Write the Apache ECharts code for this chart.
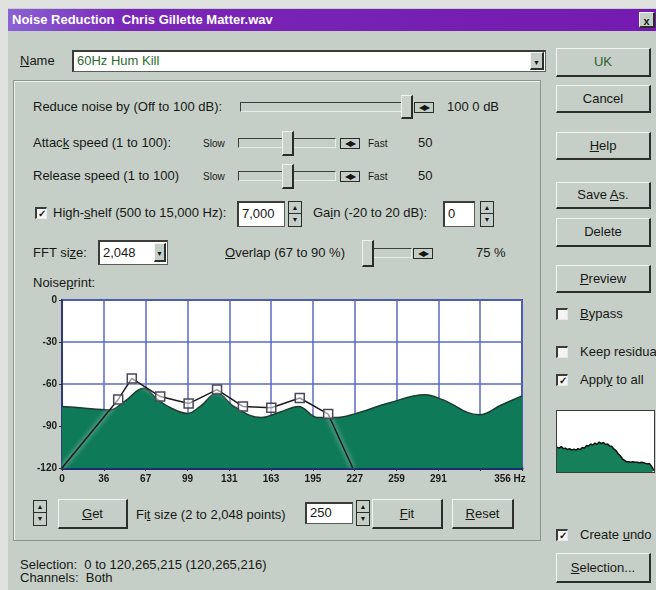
<!DOCTYPE html>
<html>
<head>
<meta charset="utf-8">
<script src="https://cdn.jsdelivr.net/npm/echarts@6/dist/echarts.min.js"></script>
<style>
html,body{margin:0;padding:0;width:656px;height:590px;overflow:hidden;background:#dfe2df;}
#ui{position:absolute;left:0;top:0;width:656px;height:590px;font-family:"Liberation Sans",Arial,sans-serif;font-size:13px;color:#161816;}
#ui div{position:absolute;box-sizing:border-box;}
.dlg{background:#c6cfc7;}
.title{background:linear-gradient(to right,#8a63d4 0%,#7a26b8 18%,#741ab0 100%);color:#fff;font-weight:bold;font-size:13px;line-height:22px;padding-left:4px;white-space:nowrap;}
.lbl{white-space:nowrap;line-height:16px;}
.btn{border:1px solid #f2f5f2;border-right:2px solid #2c2e2c;border-bottom:2px solid #2c2e2c;text-align:center;background:#c6cfc7;}
.sunk{background:#fff;border:1px solid #5a5e5a;border-top:2px solid #3a3c3a;border-left:2px solid #3a3c3a;padding-left:3px;white-space:nowrap;}
.track{border:1px solid #3c3e3c;border-bottom-color:#e8ece8;border-right-color:#e8ece8;background:#c6cfc7;}
.thumb{border:1px solid #f0f2f0;border-right:2px solid #2a2c2a;border-bottom:2px solid #2a2c2a;background:#c9d1c9;}
.arr{border:1px solid #2a2c2a;background:#c6cfc7;font-size:8px;line-height:9px;text-align:center;letter-spacing:-1px;}
.spin{border:1px solid #2a2c2a;background:#c6cfc7;font-size:7px;text-align:center;}
.chk{background:#f4f4f4;border:1px solid #e8e8e8;border-top:2px solid #3a3c3a;border-left:2px solid #3a3c3a;font-size:10px;line-height:10px;text-align:center;font-weight:bold;}
.groove{border:1px solid #8c948c;box-shadow:1px 1px 0 #eef2ee inset;}
</style>
</head>
<body>
<div id="ui"></div>
<script>
// ---- noiseprint data (Hz, dB) ----
const hzMax = 356;
const xTickLabels = ['0','36','67','99','131','163','195','227','259','291','','356 Hz'];
const printHz = [0, 14, 37, 49, 63, 74, 84, 97, 107, 120, 133, 154, 169, 183, 198, 211, 226, 253, 281, 294, 323, 340, 356];
const printDb = [-76, -77, -78.5, -72, -63, -71, -77, -81, -76, -66.5, -76, -84, -80, -76, -84, -84, -81.5, -73.6, -67.7, -71, -82, -75, -68.5];
// reduction curve control points
const curveHz = [0, 43.5, 54, 76, 98, 120, 140, 162, 184, 206, 225];
const curveDb = [-120, -71, -56, -69, -74, -64, -76, -77, -70, -81.5, -120];
// small preview profile on the right
const miniDb = [-71,-73,-70,-74,-73,-76,-74,-77,-75,-77,-74,-76,-72,-73,-68,-69,-65,-67,-63,-66,-61,-64,-62,-66,-65,-69,-70,-75,-78,-84,-88,-94,-97,-100,-100,-101,-100,-101,-101,-102,-101,-102,-103,-104,-104,-110,-117];

const ui = document.getElementById('ui');
function box(x, y, w, h, cls, txt) {
  const d = document.createElement('div');
  d.className = cls;
  d.style.left = x + 'px'; d.style.top = y + 'px';
  if (w != null) d.style.width = w + 'px';
  if (h != null) d.style.height = h + 'px';
  if (txt != null) d.innerHTML = txt;
  ui.appendChild(d);
  return d;
}
function lbl(x, yc, txt) { return box(x, yc - 8, null, 16, 'lbl', txt); }
function btn(x, y, w, h, txt) {
  const b = box(x, y, w, h, 'btn', txt);
  b.style.lineHeight = (h - 3) + 'px';
  return b;
}
function slider(x0, x1, yc, tx, th, ax) {
  box(x0, yc - 5, x1 - x0, 10, 'track');
  box(tx, yc - th / 2, 12, th, 'thumb');
  box(ax, yc - 5, 20, 11, 'arr', '&#9664;&#9654;');
}
function spinner(x, y, h) {
  const s = box(x, y, 14, h, 'spin');
  s.innerHTML = '<div style="left:0;top:0;width:12px;height:' + (h / 2 - 1) + 'px;border-bottom:1px solid #2a2c2a;line-height:' + (h / 2 - 1) + 'px">&#9650;</div>' +
    '<div style="left:0;bottom:0;width:12px;height:' + (h / 2 - 1) + 'px;line-height:' + (h / 2 - 1) + 'px">&#9660;</div>';
}
function check(x, yc, on) { box(x, yc - 6, 12, 12, 'chk', on ? '&#10003;' : ''); }

// window frame
box(8, 8, 648, 582, 'dlg');
box(8, 9, 648, 22, 'title', 'Noise Reduction &nbsp;Chris Gillette Matter.wav');
box(639, 12, 16, 16, 'btn', '<b style="font-size:11px;line-height:12px">x</b>');
box(13, 80, 528, 461, 'groove');

// name row
lbl(20, 61, '<u>N</u>ame');
const nm = box(72, 50, 474, 22, 'sunk', '<span style="color:#2f6a2f">60Hz Hum Kill</span>');
nm.style.lineHeight = '18px';
box(530, 52, 14, 18, 'btn', '<span style="font-size:7px;line-height:14px">&#9660;</span>');

// right buttons
btn(556, 48, 95, 29, '<span style="color:#2f5f2f">UK</span>');
btn(556, 85, 95, 28, 'Cancel');
btn(556, 132, 95, 28, '<u>H</u>elp');
btn(556, 182, 95, 27, 'Save <u>A</u>s.');
btn(556, 218, 95, 29, 'Delete');
btn(556, 265, 95, 28, '<u>P</u>review');
check(556, 314, false); lbl(580, 314, '<u>B</u>ypass');
check(556, 352, false); lbl(580, 352, 'Keep residual');
check(556, 380, true);  lbl(580, 380, 'Appl<u>y</u> to all');
check(556, 535, true);  lbl(580, 535, 'Create <u>u</u>ndo');
btn(556, 553, 95, 30, '<u>S</u>election...');

// parameter rows
lbl(33, 107, 'Reduce noise by (Off to 100 dB):');
slider(240, 405, 107, 401, 24, 414);
lbl(447, 107, '100 0 dB');

lbl(33, 143, 'Attac<u>k</u> speed (1 to 100):');
lbl(203, 143, '<span style="font-size:10px">Slow</span>');
slider(238, 336, 143, 282, 25, 340);
lbl(368, 143, '<span style="font-size:10px">Fast</span>');
lbl(418, 143, '50');

lbl(33, 176, 'Release speed (1 to 100)');
lbl(203, 176, '<span style="font-size:10px">Slow</span>');
slider(238, 336, 176, 282, 25, 340);
lbl(368, 176, '<span style="font-size:10px">Fast</span>');
lbl(418, 176, '50');

check(35, 213, true);
lbl(53, 213, 'High-<u>s</u>helf (500 to 15,000 Hz):');
const hs = box(237, 201, 48, 26, 'sunk', '7,000'); hs.style.lineHeight = '22px';
spinner(288, 201, 26);
lbl(313, 213, 'Ga<u>i</u>n (-20 to 20 dB):');
const gn = box(443, 201, 32, 26, 'sunk', '0'); gn.style.lineHeight = '22px';
spinner(480, 201, 26);

lbl(33, 253, 'FFT si<u>z</u>e:');
const ff = box(98, 240, 70, 25, 'sunk', '2,048'); ff.style.lineHeight = '21px';
box(154, 243, 12, 19, 'btn', '<span style="font-size:7px;line-height:15px">&#9660;</span>');
lbl(225, 253, '<u>O</u>verlap (67 to 90 %)');
slider(362, 412, 253, 362, 27, 413);
lbl(476, 253, '75 %');

lbl(33, 283, 'Noise<u>p</u>rint:');

// bottom controls
spinner(33, 500, 26);
btn(58, 499, 70, 30, '<u>G</u>et');
lbl(136, 515, 'Fi<u>t</u> size (2 to 2,048 points)');
const fz = box(305, 502, 48, 22, 'sunk', '250'); fz.style.lineHeight = '18px';
spinner(356, 500, 26);
btn(372, 499, 71, 30, '<u>F</u>it');
btn(452, 499, 62, 30, '<u>R</u>eset');

lbl(20, 565, 'Selection: &nbsp;0 to 120,265,215 (120,265,216)');
lbl(20, 578, 'Channels: &nbsp;Both');

// ---- main noiseprint chart ----
const chartDiv = box(20, 290, 530, 205, '');
const chart = echarts.init(chartDiv);
const step = hzMax / 11;
chart.setOption({
  animation: false,
  grid: {
    left: 42, top: 10, right: 28, bottom: 27,
    show: true, backgroundColor: '#ffffff', borderColor: '#2f3a7a', borderWidth: 2
  },
  xAxis: {
    type: 'value', min: 0, max: hzMax, interval: step,
    axisLine: { show: true, onZero: false, lineStyle: { color: '#183070', width: 3 } },
    axisTick: { show: true, length: 3, lineStyle: { color: '#333' } },
    splitLine: { show: true, lineStyle: { color: '#5a68c4', width: 1.5 } },
    axisLabel: {
      color: '#1a1a1a', fontSize: 10, fontWeight: 'bold', margin: 6,
      showMaxLabel: true,
      formatter: function (v) {
        const t = xTickLabels[Math.round(v / step)];
        return t === '356 Hz' ? '{r|' + t + '}' : t;
      },
      rich: { r: { fontSize: 10, fontWeight: 'bold', color: '#1a1a1a', padding: [0, 24, 0, 0] } }
    }
  },
  yAxis: {
    type: 'value', min: -120, max: 0, interval: 30,
    axisLine: { show: true, lineStyle: { color: '#2f3a7a', width: 2 } },
    axisTick: { show: true, length: 3, lineStyle: { color: '#333' } },
    splitLine: { show: true, lineStyle: { color: '#5a68c4', width: 1.5 } },
    axisLabel: { color: '#1a1a1a', fontSize: 10, fontWeight: 'bold', margin: 5 }
  },
  series: [
    {
      type: 'line', smooth: 0.4, symbol: 'none', z: 2,
      data: printHz.map((h, i) => [h, printDb[i]]),
      lineStyle: { color: '#1d3b2f', width: 1.5 },
      areaStyle: { color: '#0f7a58', origin: 'start', opacity: 1 }
    },
    {
      type: 'line', z: 3,
      data: curveHz.map((h, i) => {
        const p = { value: [h, curveDb[i]] };
        if (i === 0 || i === curveHz.length - 1) p.symbol = 'none';
        return p;
      }),
      symbol: 'rect', symbolSize: 9,
      itemStyle: { color: 'rgba(255,255,255,0.55)', borderColor: '#4a4858', borderWidth: 1.5 },
      lineStyle: { color: '#1a1c1a', width: 1.5, shadowColor: 'rgba(255,255,255,0.9)', shadowBlur: 5 }
    }
  ]
});

// ---- small preview chart ----
const miniDiv = box(556, 410, 99, 63, '');
miniDiv.style.border = '1px solid #3a3c3a';
miniDiv.style.background = '#fff';
const mini = echarts.init(miniDiv);
mini.setOption({
  animation: false,
  grid: { left: 0, right: 0, top: 0, bottom: 0 },
  xAxis: { type: 'value', min: 0, max: miniDb.length - 1, show: false },
  yAxis: { type: 'value', min: -120, max: 0, show: false },
  series: [{
    type: 'line', symbol: 'none',
    data: miniDb.map((v, i) => [i, v]),
    lineStyle: { color: '#101410', width: 1.5 },
    areaStyle: { color: '#15805a', origin: 'start', opacity: 1 }
  }]
});
</script>
</body>
</html>
